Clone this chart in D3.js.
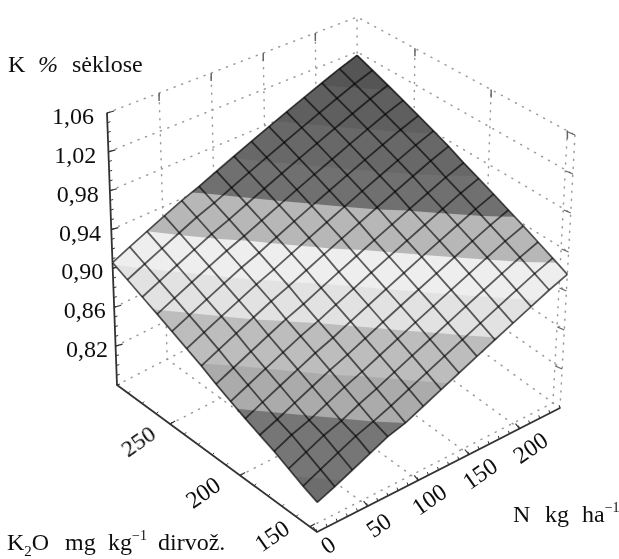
<!DOCTYPE html>
<html>
<head>
<meta charset="utf-8">
<script src="https://cdn.jsdelivr.net/npm/d3@7"></script>
<style>
  html, body { margin: 0; padding: 0; background: #fff; }
  svg { display: block; }
  text { font-family: "Liberation Serif", "Times New Roman", serif; fill: #111; }
</style>
</head>
<body>
<svg width="619" height="559"></svg>
<script>
// Surface values: rows go by K2O, columns by N
const surfaceZ = [
  [.810,.817,.825,.833,.841,.846,.854,.862,.870,.878,.886,.894,.902,.910,.917],
  [.816,.824,.832,.840,.846,.853,.861,.869,.877,.885,.893,.901,.909,.917,.924],
  [.823,.831,.839,.845,.853,.860,.868,.876,.884,.892,.900,.908,.916,.924,.931],
  [.830,.838,.844,.852,.860,.867,.875,.883,.891,.899,.907,.915,.923,.931,.938],
  [.836,.843,.851,.859,.867,.874,.882,.890,.898,.906,.914,.922,.930,.938,.945],
  [.842,.850,.858,.866,.874,.881,.889,.897,.905,.913,.921,.929,.937,.945,.952],
  [.849,.857,.865,.873,.881,.888,.896,.904,.912,.920,.928,.936,.944,.952,.959],
  [.856,.864,.872,.880,.888,.895,.903,.911,.919,.927,.935,.943,.951,.959,.966],
  [.864,.872,.880,.888,.896,.903,.911,.919,.927,.935,.943,.951,.959,.967,.974],
  [.871,.879,.887,.895,.903,.910,.918,.926,.934,.942,.950,.958,.966,.974,.981],
  [.878,.886,.894,.902,.910,.917,.925,.933,.941,.949,.957,.965,.973,.981,.988],
  [.885,.893,.901,.909,.917,.924,.932,.940,.948,.956,.964,.972,.980,.988,.995],
  [.892,.900,.908,.916,.924,.931,.939,.947,.955,.963,.971,.979,.987,.995,1.002],
  [.899,.907,.915,.923,.931,.938,.946,.954,.962,.970,.978,.986,.994,1.002,1.009],
  [.906,.914,.922,.930,.938,.945,.953,.961,.969,.977,.985,.993,1.001,1.009,1.016]
];
const bandLevels = [.78, .82, .846, .865, .887, .905, .922, .942, .96, .98, 1.00];
const bandColors = ["#6d6d6d", "#767676", "#ababab", "#bdbdbd", "#e2e2e2", "#eeeeee", "#b7b7b7", "#707070", "#686868", "#5e5e5e", "#545454"];
const zTicks = [.82, .86, .90, .94, .98, 1.02, 1.06];
const nTicks = [0, 50, 100, 150, 200];
const kTicks = [150, 200, 250];
const nDomain = [0, 240];
const kDomain = [145, 288];
const zDomain = [.78, 1.06];

const svg = d3.select("svg");

// Box corners on screen: [N side, K side]
const floorC = [[[317, 532], [117, 385]], [[560, 408], [358, 261]]];
const ceilC = [[[320, 256], [107, 113]], [[575, 135], [357, 17]]];

const uScale = d3.scaleLinear().domain(nDomain).range([0, 1]);
const vScale = d3.scaleLinear().domain(kDomain).range([0, 1]);
const wScale = d3.scaleLinear().domain(zDomain).range([0, 1]);

function bilerp(c, u, v) {
  return [0, 1].map(a =>
    (1 - u) * ((1 - v) * c[0][0][a] + v * c[0][1][a]) + u * ((1 - v) * c[1][0][a] + v * c[1][1][a]));
}
function project(n, k, z) {
  const u = uScale(n), v = vScale(k), w = wScale(z);
  const f = bilerp(floorC, u, v), t = bilerp(ceilC, u, v);
  return [f[0] + (t[0] - f[0]) * w, f[1] + (t[1] - f[1]) * w];
}

const defs = svg.append("defs");
defs.append("filter").attr("id", "soft").append("feGaussianBlur").attr("stdDeviation", 0.7);
defs.append("filter").attr("id", "softer").append("feGaussianBlur").attr("stdDeviation", 0.3);

const line = d3.line();
const [zMin, zMax] = zDomain;
const [nMin, nMax] = nDomain;
const [kMin, kMax] = kDomain;

// Dotted walls and floor
const grid = svg.append("g").attr("filter", "url(#soft)")
  .attr("fill", "none").attr("stroke", "#9a9a9a").attr("stroke-width", 1.5)
  .attr("stroke-dasharray", "1 7").attr("stroke-linecap", "round");

const gridLines = [];
zTicks.forEach(z => {
  gridLines.push([project(nMin, kMax, z), project(nMax, kMax, z), project(nMax, kMin, z)]);
});
gridLines.push([project(nMin, kMax, zMin), project(nMax, kMax, zMin), project(nMax, kMin, zMin)]);
gridLines.push([project(nMax, kMax, zMin), project(nMax, kMax, zMax)]);
gridLines.push([project(nMax, kMin, zMin), project(nMax, kMin, zMax)]);
nTicks.filter(n => n > 0).forEach(n => {
  gridLines.push([project(n, kMin, zMin), project(n, kMax, zMin), project(n, kMax, zMax)]);
});
kTicks.forEach(k => {
  gridLines.push([project(nMin, k, zMin), project(nMax, k, zMin), project(nMax, k, zMax)]);
});
grid.selectAll("path").data(gridLines).join("path").attr("d", line);

// Axes
const axes = svg.append("g").attr("filter", "url(#soft)")
  .attr("fill", "none").attr("stroke", "#333");
axes.append("path").attr("stroke-width", 1.8)
  .attr("d", line([project(nMin, kMax, zMax), project(nMin, kMax, zMin), project(nMin, kMin, zMin), project(nMax, kMin, zMin)]));

const zMinor = d3.range(zMin, zMax + .001, .01);
axes.selectAll(".zminor").data(zMinor).join("path").attr("class", "zminor")
  .attr("stroke-width", 1)
  .attr("d", z => { const p = project(nMin, kMax, z); return line([p, [p[0] + 3, p[1] - 1]]); });
axes.selectAll(".zmajor").data(zTicks).join("path").attr("class", "zmajor")
  .attr("stroke-width", 1.2)
  .attr("d", z => { const p = project(nMin, kMax, z); return line([p, [p[0] + 7, p[1] - 2]]); });
axes.selectAll(".zright").data(zTicks).join("path").attr("class", "zright")
  .attr("stroke", "#666").attr("stroke-width", 1.3)
  .attr("d", z => { const p = project(nMax, kMin, z); return line([p, [p[0] - 7, p[1] - 3]]); });
axes.selectAll(".ntop").data(nTicks.filter(n => n > 0)).join("path").attr("class", "ntop")
  .attr("stroke", "#666").attr("stroke-width", 1.5)
  .attr("d", n => { const p = project(n, kMax, zMax); return line([p, [p[0], p[1] + 8]]); });
axes.selectAll(".ktop").data(kTicks).join("path").attr("class", "ktop")
  .attr("stroke", "#666").attr("stroke-width", 1.5)
  .attr("d", k => { const p = project(nMax, k, zMax); return line([p, [p[0], p[1] + 8]]); });
axes.selectAll(".nminor").data(d3.range(0, nMax + 1, 10)).join("path").attr("class", "nminor")
  .attr("stroke-width", 1)
  .attr("d", n => { const p = project(n, kMin, zMin); return line([p, [p[0] - 1, p[1] - 3]]); });
axes.selectAll(".kminor").data(d3.range(150, kMax + 1, 10)).join("path").attr("class", "kminor")
  .attr("stroke-width", 1)
  .attr("d", k => { const p = project(nMin, k, zMin); return line([p, [p[0] + 2, p[1] - 2]]); });
axes.selectAll(".nmajor").data(nTicks).join("path").attr("class", "nmajor")
  .attr("stroke-width", 1.2)
  .attr("d", n => { const p = project(n, kMin, zMin); return line([p, [p[0] - 4, p[1] - 5]]); });
axes.selectAll(".kmajor").data(kTicks).join("path").attr("class", "kmajor")
  .attr("stroke-width", 1.2)
  .attr("d", k => { const p = project(nMin, k, zMin); return line([p, [p[0] + 5, p[1] - 3]]); });

// Surface: filled bands from the value table
const nCount = surfaceZ[0].length, kCount = surfaceZ.length;
const nStep = d3.scaleLinear().domain([0, nCount - 1]).range(nDomain);
const kStep = d3.scaleLinear().domain([0, kCount - 1]).range(kDomain);
const surfaceAt = (i, j) => {
  const i0 = Math.min(Math.floor(i), nCount - 2), j0 = Math.min(Math.floor(j), kCount - 2);
  const a = i - i0, b = j - j0;
  return (1 - a) * ((1 - b) * surfaceZ[j0][i0] + b * surfaceZ[j0 + 1][i0])
    + a * ((1 - b) * surfaceZ[j0][i0 + 1] + b * surfaceZ[j0 + 1][i0 + 1]);
};
const meshPoint = (i, j) => project(nStep(i), kStep(j), surfaceAt(i, j));

const contours = d3.contours().size([nCount, kCount]).thresholds(bandLevels)(surfaceZ.flat());
const surface = svg.append("g").attr("filter", "url(#soft)");
const clampI = x => Math.max(0, Math.min(nCount - 1, x - 0.5));
const clampJ = y => Math.max(0, Math.min(kCount - 1, y - 0.5));
surface.selectAll(".band").data(contours).join("path").attr("class", "band")
  .attr("fill", (d, i) => bandColors[i])
  .attr("d", d => d.coordinates.map(poly => poly.map(ring =>
    "M" + ring.map(([x, y]) => meshPoint(clampI(x), clampJ(y)).join(",")).join("L") + "Z").join("")).join(""));

const mesh = surface.append("g").attr("fill", "none").attr("stroke", "#000")
  .attr("stroke-opacity", 0.62).attr("stroke-width", 1.8);
d3.range(nCount).forEach(i => mesh.append("path").attr("d", line(d3.range(kCount).map(j => meshPoint(i, j)))));
d3.range(kCount).forEach(j => mesh.append("path").attr("d", line(d3.range(nCount).map(i => meshPoint(i, j)))));

const labels = svg.append("g").attr("filter", "url(#softer)");

// Tick labels
const fmt = z => z.toFixed(2).replace(".", ",");
const zLabelX = d3.scaleLinear().domain([.82, 1.06]).range([108, 94]);
labels.append("g").selectAll("text").data(zTicks).join("text")
  .attr("x", z => zLabelX(z)).attr("text-anchor", "end").attr("font-size", 24)
  .attr("y", z => project(nMin, kMax, z)[1] + 11)
  .text(fmt);
const kDx = d3.scaleLinear().domain([150, 200, 250]).range([-38, -37, -32]);
const kDy = d3.scaleLinear().domain([150, 200, 250]).range([9, 17, 17]);
labels.append("g").selectAll("text").data(kTicks).join("text")
  .attr("font-size", 24).attr("text-anchor", "middle").attr("dominant-baseline", "central")
  .attr("transform", k => {
    const p = project(nMin, k, zMin);
    return `translate(${p[0] + kDx(k)},${p[1] + kDy(k)}) rotate(-35)`;
  })
  .text(k => k);
labels.append("g").selectAll("text").data(nTicks).join("text")
  .attr("font-size", 24).attr("text-anchor", "middle").attr("dominant-baseline", "central")
  .attr("transform", n => {
    const p = project(n, kMin, zMin);
    return `translate(${p[0] + 11},${p[1] + (n === 0 ? 13 : 19)}) rotate(-35)`;
  })
  .text(n => n);

// Axis titles
const title = labels.append("text").attr("x", 8).attr("y", 72).attr("font-size", 24);
title.append("tspan").text("K");
title.append("tspan").attr("x", 38).attr("font-style", "italic").text("%");
title.append("tspan").attr("x", 72).text("sėklose");

const nLabel = labels.append("text").attr("x", 513).attr("y", 522).attr("font-size", 24);
nLabel.append("tspan").text("N");
nLabel.append("tspan").attr("x", 545).text("kg");
nLabel.append("tspan").attr("x", 582).text("ha");
nLabel.append("tspan").attr("font-size", 14).attr("dy", -10).text("−1");

const kLabel = labels.append("text").attr("x", 7).attr("y", 550).attr("font-size", 24);
kLabel.append("tspan").text("K");
kLabel.append("tspan").attr("font-size", 15).attr("dy", 6).text("2");
kLabel.append("tspan").attr("dy", -6).text("O");
kLabel.append("tspan").attr("x", 65).text("mg");
kLabel.append("tspan").attr("x", 108).text("kg");
kLabel.append("tspan").attr("font-size", 14).attr("dy", -10).text("−1");
kLabel.append("tspan").attr("x", 158).attr("dy", 10).text("dirvož.");
</script>
</body>
</html>
